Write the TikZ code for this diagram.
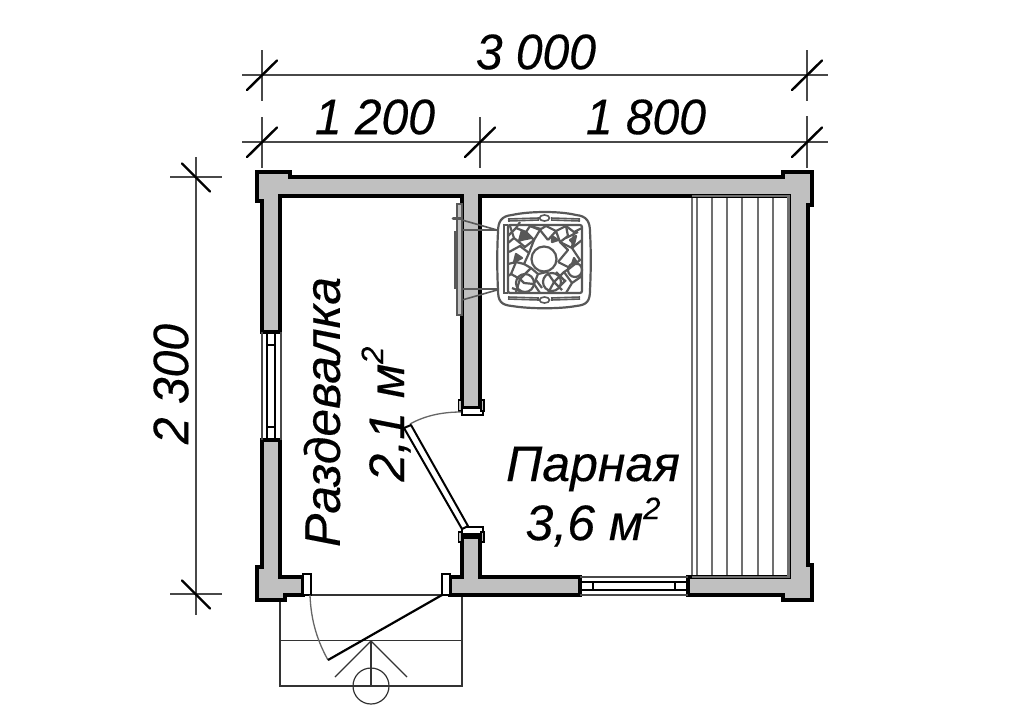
\documentclass[tikz,border=0pt]{standalone}
\usepackage{fontspec}
\setmainfont{Liberation Sans}[ItalicFeatures={FakeBold=0.25}]
\newfontfamily\numfont{Liberation Sans}[ItalicFeatures={FakeBold=0.25,FakeStretch=0.96}]
\definecolor{wallgray}{HTML}{C0C0C0}
\definecolor{dimline}{HTML}{484848}
\definecolor{stovegray}{HTML}{585858}
\definecolor{shelfgray}{HTML}{707070}
\newcommand{\sqm}{\raisebox{0.42em}{\fontsize{31}{31}\selectfont 2}}
\tikzset{
  wall/.style={fill=wallgray,draw=black,line width=3.3pt,line join=miter},
  whitepart/.style={fill=white,draw=black,line width=2pt},
  capline/.style={draw=black,line width=1.9pt,fill=white},
  dim/.style={draw=dimline,line width=1.2pt},
  tick/.style={draw=black,line width=2.4pt,line cap=round},
  glassthin/.style={draw=dimline,line width=1.3pt},
  glass/.style={draw=black,line width=1.9pt},
  shelf/.style={draw=shelfgray,line width=1.9pt},
  stove/.style={draw=stovegray,line width=1.6pt},
  stoveb/.style={draw=stovegray,line width=2.2pt,line join=round},
  porch/.style={draw=black!80,line width=1.2pt},
  swing/.style={draw=black!60,line width=1.3pt},
  leaf/.style={fill=white,draw=black,line width=2pt,line join=round},
  label/.style={inner sep=0pt,font=\fontsize{50}{54}\selectfont\itshape,align=center},
  numlabel/.style={inner sep=0pt,font=\numfont\fontsize{50}{54}\selectfont\itshape,align=center}
}
\begin{document}
\begin{tikzpicture}[x=1pt,y=-1pt]
\useasboundingbox (0,0) rectangle (1024,724);
\fill[white] (0,0) rectangle (1024,724);
% dimensions
\draw[dim] (242,75) -- (828,75);
\draw[dim] (242,142) -- (828,142);
\draw[dim] (262,50) -- (262,101);
\draw[dim] (807,50) -- (807,101);
\draw[dim] (262,117) -- (262,168);
\draw[dim] (480,117) -- (480,168);
\draw[dim] (807,116) -- (807,168);
\draw[dim] (196,157) -- (196,615);
\draw[dim] (170,177) -- (222,177);
\draw[dim] (170,594) -- (222,594);
\foreach \px/\py in {262/75,262/142,480/142,807/75,807/142}
  \draw[tick] (\px-15,\py+15) -- (\px+15,\py-14.5);
\foreach \py in {177,594}
  \draw[tick] (182,\py-13.5) -- (210,\py+14.5);
% porch
\draw[porch] (280,595) rectangle (462,686);
\draw[porch] (280,640.5) -- (462,640.5);
\draw[porch] (335,677) -- (371,641) -- (407,677);
\draw[porch] (371,641) -- (371,686);
\draw[porch] (371,686) circle[radius=18];
% shelf
\foreach \sx in {692,697,712,727,742,758,773}
  \draw[shelf] (\sx,196) -- (\sx,577);
% walls
\draw[wall] (257,172) -- (290,172) -- (290,177) -- (783,177) -- (783,172) -- (812,172)
  -- (812,205) -- (808,205) -- (808,565) -- (812,565) -- (812,600) -- (783,600) -- (783,595)
  -- (688,595) -- (688,577) -- (789,577) -- (789,196) -- (480,196) -- (480,408) -- (462,408)
  -- (462,196) -- (280,196) -- (280,332) -- (262,332) -- (262,201) -- (257,201) -- cycle;
\draw[wall] (262,440) -- (280,440) -- (280,577) -- (303,577) -- (303,595) -- (285,595)
  -- (285,600) -- (257,600) -- (257,567) -- (262,567) -- cycle;
\draw[wall] (462,537) -- (480,537) -- (480,577) -- (580,577) -- (580,595) -- (450,595)
  -- (450,577) -- (462,577) -- cycle;
\draw[draw=shelfgray,line width=2.8pt] (692,196) -- (788.5,196) -- (788.5,577) -- (692,577);
% left window
\draw[glassthin] (262,332) -- (262,440) (281,332) -- (281,440);
\draw[glass] (267,332) -- (267,440) (275,332) -- (275,440);
\draw[glass] (267,345) -- (275,345) (267,427) -- (275,427);
% bottom window
\draw[glassthin] (580,577) -- (688,577) (580,595) -- (688,595);
\draw[glass] (580,582) -- (688,582) (580,590) -- (688,590);
\draw[glass] (593,582) -- (593,590) (675,582) -- (675,590);
% jambs
\draw[whitepart] (303,574) rectangle (311,595);
\draw[whitepart] (442,574) rectangle (450,595);
% upper door cap
\draw[capline] (462,408) -- (462,415) -- (483,415) -- (483,408) -- cycle;
\draw[capline,fill=wallgray] (458.5,400) rectangle (461.5,411);
\draw[capline,fill=wallgray] (481,400) rectangle (484,411);
% lower door cap
\draw[capline] (462,527) rectangle (483,534);
\draw[capline,fill=wallgray] (458.5,532) rectangle (461.5,542);
\draw[capline,fill=wallgray] (481,532) rectangle (484,542);
% door leaves and swing arcs
\draw[swing] (410,424) .. controls (426,415) and (444,412) .. (461,412);
\draw[leaf] (404,428) -- (411,425) -- (468,526) -- (462,529) -- cycle;
\draw[swing] (310,595) .. controls (311,622) and (318,642) .. (328,660);
\draw[black,line width=2.2pt] (442,595) -- (328,660);
% stove door
\draw[stove,fill=wallgray] (457,204) rectangle (462,315);
\draw[stove,fill=stovegray] (455,232) rectangle (457,288);
\draw[stoveb,line width=3pt,line cap=round] (453,218) -- (461,218);
\draw[stove] (462,220) -- (497,230);
\draw[stove] (462,230) -- (508,230);
\draw[stove] (462,289) -- (508,289);
\draw[stove] (462,300) -- (497,290);
% stove body
\draw[draw=stovegray,line width=2.2pt,fill=white] (512,215) .. controls (530,211) and (560,211) .. (576,215)
  .. controls (587,216) and (590,222) .. (590,232)
  .. controls (591,250) and (591,270) .. (590,290)
  .. controls (590,301) and (587,305) .. (576,306)
  .. controls (560,309) and (530,309) .. (512,306)
  .. controls (501,305) and (498,301) .. (498,290)
  .. controls (497,270) and (497,250) .. (498,232)
  .. controls (498,222) and (501,216) .. (512,215) -- cycle;
\draw[stove] (508,219) -- (539,218) (551,218) -- (580,219);
\draw[stove] (508,299) -- (539,300) (551,300) -- (580,299);
\draw[stove] (508,221) -- (539,220) (551,220) -- (580,221);
\draw[stove] (508,297) -- (539,298) (551,298) -- (580,297);
\draw[stove] (544.5,218) ellipse[x radius=5,y radius=3];
\draw[stove] (544.5,300) ellipse[x radius=5,y radius=3];
\draw[stove] (508,225) -- (504,225) -- (504,293) -- (508,293);
\draw[stoveb,rounded corners=2pt] (508,225) rectangle (582,293);
% stones
\begin{scope}[stoveb]
\draw (508,236) -- (516,228) -- (526,232) -- (530,226) -- (541,229) -- (546,226) -- (556,231) -- (566,226) -- (574,232) -- (582,228);
\draw (510,226) -- (514,238) -- (508,243) (514,238) -- (525,247) -- (534,240) -- (526,232);
\draw (522,230) -- (519,241) -- (530,236) (534,240) -- (540,230) -- (548,240);
\draw (548,240) -- (556,231) -- (560,242) -- (568,236) -- (566,226);
\draw (560,242) -- (572,248) -- (582,240) (574,232) -- (572,248) -- (580,260) -- (570,268) -- (558,262);
\draw (560,242) -- (568,250) -- (558,262);
\draw (509,252) -- (520,246) -- (529,253) -- (524,264) -- (531,268);
\draw (508,264) -- (516,262) -- (524,264) (516,262) -- (511,274) -- (520,279) -- (516,292);
\draw (511,274) -- (508,276) (520,279) -- (531,268) -- (538,274) -- (534,284) -- (524,283) -- (520,279);
\draw (534,284) -- (540,293) (538,274) -- (547,272) -- (554,282) -- (548,293);
\draw (554,282) -- (564,272) -- (570,268) (564,272) -- (572,283) -- (566,293);
\draw (572,283) -- (582,276) (554,282) -- (562,290);
\draw (529,253) -- (534,240);
\draw (575,270) circle[radius=7];
\draw (525,283) circle[radius=9];
\draw (552,282) circle[radius=9];
\draw[fill=stovegray] (523,232) -- (531,238) -- (521,240) -- cycle;
\draw[fill=stovegray] (552,236) -- (558,240) -- (552,242) -- cycle;
\draw[fill=stovegray] (570,240) -- (576,236) -- (574,244) -- cycle;
\draw[fill=stovegray] (516,254) -- (522,258) -- (514,262) -- cycle;
\draw[fill=stovegray] (574,258) -- (578,264) -- (572,264) -- cycle;
\draw (516,228) -- (520,222) (540,230) -- (530,226) (566,238) -- (578,232);
\draw (512,288) -- (522,292) (556,272) -- (564,280) (536,280) -- (542,288) (560,286) -- (566,280);
\end{scope}
\draw[stoveb,fill=white] (544,259) circle[radius=12.5];
% labels
\node[numlabel] (total) at (536,52) {3 000};
\node[numlabel] (left) at (375,117) {1 200};
\node[numlabel] (right) at (646,117) {1 800};
\node[numlabel,rotate=90] (height) at (171,384) {2 300};
\node[label,rotate=90] (room1) at (322,412) {Раздевалка};
\node[label,rotate=90] (area1) at (386,414) {2,1 м\sqm};
\node[label] (room2) at (593,469) {Парная};
\node[label] (area2) at (593,522) {3,6 м\sqm};
\end{tikzpicture}
\end{document}
